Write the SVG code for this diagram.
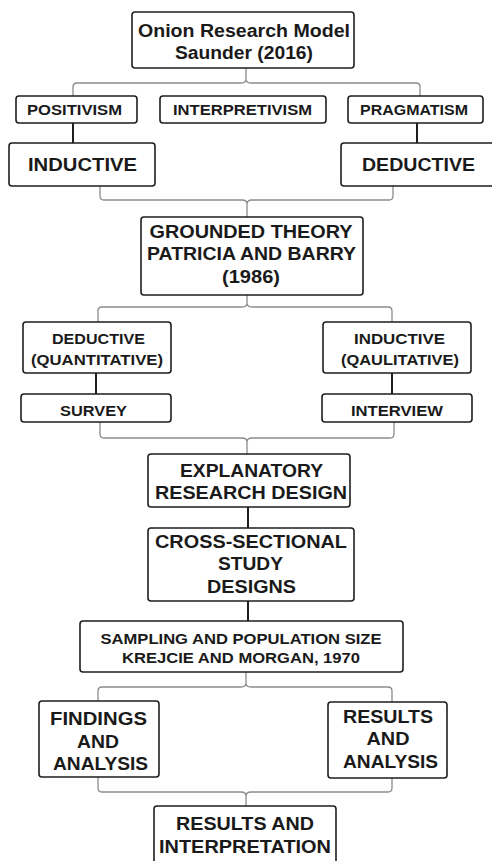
<svg xmlns="http://www.w3.org/2000/svg" width="492" height="861" viewBox="0 0 492 861">
<style>
.box{fill:#fff;stroke:#1e1e1e;stroke-width:1.6}
.t{font-family:"Liberation Sans",Arial,sans-serif;font-weight:bold;fill:#1a1a1a;text-anchor:middle}
.s13{font-size:14.5px}.s14{font-size:15px}.s17{font-size:18px}.s18{font-size:18.5px}
.link{stroke:#1e1e1e;stroke-width:2;fill:none}
.brace{stroke:#8c8c8c;stroke-width:1.3;fill:none}
</style>
<rect width="492" height="861" fill="#fff"/>
<g id="connectors">
<path class="brace" d="M246 68 V79 Q246 83 241 83 H77 Q73 83 73 87 V96 M246 79 Q246 83 251 83 H416 Q420 83 420 87 V96"/>
<path class="link" d="M73 123 V143 M417 123 V143"/>
<path class="brace" d="M100 186 V196 Q100 200 104 200 H242 Q247 200 247 204 V217 M393 186 V196 Q393 200 389 200 H252 Q247 200 247 204"/>
<path class="brace" d="M247 295 V303 Q247 307 242 307 H102 Q98 307 98 311 V322 M247 303 Q247 307 252 307 H388 Q392 307 392 311 V322"/>
<path class="link" d="M96 373 V394 M392 373 V394"/>
<path class="brace" d="M100 422 V434 Q100 438 104 438 H242 Q247 438 247 442 V454 M394 422 V434 Q394 438 390 438 H252 Q247 438 247 442"/>
<path class="link" d="M248 507 V528 M248 601 V621"/>
<path class="brace" d="M246 672 V683 Q246 687 241 687 H102 Q98 687 98 691 V701 M246 683 Q246 687 251 687 H388 Q392 687 392 691 V702"/>
<path class="brace" d="M98 777 V788 Q98 792 102 792 H241 Q246 792 246 796 V806 M392 778 V788 Q392 792 388 792 H251 Q246 792 246 796"/>
</g>
<g id="onion">
<rect class="box" x="132" y="12" width="222" height="56" rx="3"/>
<text class="t s17" x="244" y="37" textLength="212" lengthAdjust="spacingAndGlyphs">Onion Research Model</text>
<text class="t s17" x="244" y="58.5" textLength="138" lengthAdjust="spacingAndGlyphs">Saunder (2016)</text>
</g>
<g id="positivism">
<rect class="box" x="16" y="96" width="121" height="27" rx="3"/>
<text class="t s13" x="74.5" y="114.5" textLength="95" lengthAdjust="spacingAndGlyphs">POSITIVISM</text>
</g>
<g id="interpretivism">
<rect class="box" x="160" y="96" width="166" height="27" rx="3"/>
<text class="t s13" x="242.5" y="114.5" textLength="139" lengthAdjust="spacingAndGlyphs">INTERPRETIVISM</text>
</g>
<g id="pragmatism">
<rect class="box" x="348" y="96" width="135" height="27" rx="3"/>
<text class="t s13" x="414" y="114.5" textLength="108" lengthAdjust="spacingAndGlyphs">PRAGMATISM</text>
</g>
<g id="inductive">
<rect class="box" x="9" y="143" width="146" height="43" rx="3"/>
<text class="t s18" x="82.5" y="171" textLength="109" lengthAdjust="spacingAndGlyphs">INDUCTIVE</text>
</g>
<g id="deductive">
<rect class="box" x="341" y="143" width="160" height="43" rx="3"/>
<text class="t s18" x="418.5" y="171" textLength="113" lengthAdjust="spacingAndGlyphs">DEDUCTIVE</text>
</g>
<g id="grounded">
<rect class="box" x="141" y="217" width="222" height="78" rx="3"/>
<text class="t s17" x="251" y="237.5" textLength="203" lengthAdjust="spacingAndGlyphs">GROUNDED THEORY</text>
<text class="t s17" x="251.5" y="260" textLength="209" lengthAdjust="spacingAndGlyphs">PATRICIA AND BARRY</text>
<text class="t s17" x="251" y="282.5" textLength="58" lengthAdjust="spacingAndGlyphs">(1986)</text>
</g>
<g id="deductive-quant">
<rect class="box" x="23" y="322" width="148" height="51" rx="3"/>
<text class="t s13" x="98.5" y="343.5" textLength="93" lengthAdjust="spacingAndGlyphs">DEDUCTIVE</text>
<text class="t s13" x="97" y="364.5" textLength="132" lengthAdjust="spacingAndGlyphs">(QUANTITATIVE)</text>
</g>
<g id="inductive-qual">
<rect class="box" x="323" y="322" width="148" height="51" rx="3"/>
<text class="t s13" x="399.5" y="343.5" textLength="91" lengthAdjust="spacingAndGlyphs">INDUCTIVE</text>
<text class="t s13" x="400" y="364.5" textLength="118" lengthAdjust="spacingAndGlyphs">(QAULITATIVE)</text>
</g>
<g id="survey">
<rect class="box" x="21" y="394" width="150" height="28" rx="3"/>
<text class="t s13" x="93.5" y="415.5" textLength="67" lengthAdjust="spacingAndGlyphs">SURVEY</text>
</g>
<g id="interview">
<rect class="box" x="322" y="394" width="150" height="28" rx="3"/>
<text class="t s13" x="397" y="415.5" textLength="92" lengthAdjust="spacingAndGlyphs">INTERVIEW</text>
</g>
<g id="explanatory">
<rect class="box" x="148" y="454" width="202" height="53" rx="3"/>
<text class="t s18" x="251.5" y="476.5" textLength="143" lengthAdjust="spacingAndGlyphs">EXPLANATORY</text>
<text class="t s18" x="251" y="498.5" textLength="192" lengthAdjust="spacingAndGlyphs">RESEARCH DESIGN</text>
</g>
<g id="cross-sectional">
<rect class="box" x="148" y="528" width="206" height="73" rx="3"/>
<text class="t s18" x="251" y="547.5" textLength="192" lengthAdjust="spacingAndGlyphs">CROSS-SECTIONAL</text>
<text class="t s18" x="250.5" y="569.5" textLength="65" lengthAdjust="spacingAndGlyphs">STUDY</text>
<text class="t s18" x="251.5" y="592.5" textLength="89" lengthAdjust="spacingAndGlyphs">DESIGNS</text>
</g>
<g id="sampling">
<rect class="box" x="80" y="621" width="323" height="51" rx="3"/>
<text class="t s14" x="241" y="644" textLength="281" lengthAdjust="spacingAndGlyphs">SAMPLING AND POPULATION SIZE</text>
<text class="t s14" x="241" y="663" textLength="238" lengthAdjust="spacingAndGlyphs">KREJCIE AND MORGAN, 1970</text>
</g>
<g id="findings">
<rect class="box" x="39" y="701" width="120" height="76" rx="3"/>
<text class="t s17" x="98.5" y="724.5" textLength="97" lengthAdjust="spacingAndGlyphs">FINDINGS</text>
<text class="t s17" x="98" y="747.5" textLength="42" lengthAdjust="spacingAndGlyphs">AND</text>
<text class="t s17" x="100.5" y="769.5" textLength="95" lengthAdjust="spacingAndGlyphs">ANALYSIS</text>
</g>
<g id="results-analysis">
<rect class="box" x="328" y="702" width="119" height="76" rx="3"/>
<text class="t s17" x="388" y="722.5" textLength="90" lengthAdjust="spacingAndGlyphs">RESULTS</text>
<text class="t s17" x="388" y="744.5" textLength="43" lengthAdjust="spacingAndGlyphs">AND</text>
<text class="t s17" x="390.5" y="767.5" textLength="95" lengthAdjust="spacingAndGlyphs">ANALYSIS</text>
</g>
<g id="results-interpretation">
<rect class="box" x="154" y="806" width="182" height="70" rx="3"/>
<text class="t s18" x="245" y="829.5" textLength="138" lengthAdjust="spacingAndGlyphs">RESULTS AND</text>
<text class="t s18" x="245" y="852.5" textLength="172" lengthAdjust="spacingAndGlyphs">INTERPRETATION</text>
</g>
</svg>
